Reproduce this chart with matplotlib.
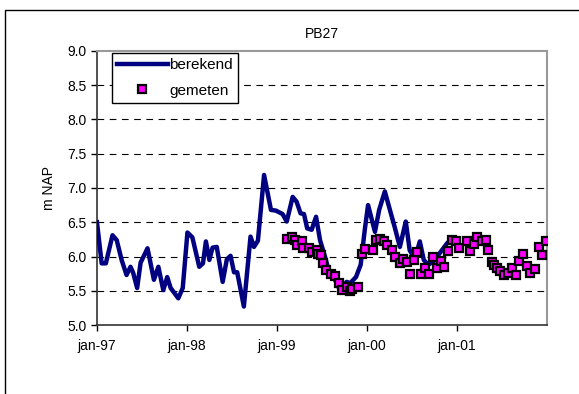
import matplotlib
matplotlib.use("Agg")
import matplotlib.pyplot as plt
from matplotlib.patches import Rectangle
import pandas as pd

plt.rcParams['font.family'] = ['Liberation Sans', 'DejaVu Sans']

# berekende stijghoogte (m NAP)
ber_dates = ['1997-01-01', '1997-01-20', '1997-02-06', '1997-03-05', '1997-03-22', '1997-04-11',
             '1997-05-01', '1997-05-17', '1997-05-28', '1997-06-13', '1997-06-27', '1997-07-25',
             '1997-08-20', '1997-09-07', '1997-09-27', '1997-10-13', '1997-10-27', '1997-11-27',
             '1997-12-15', '1998-01-03', '1998-01-23', '1998-02-20', '1998-03-07', '1998-03-19',
             '1998-04-02', '1998-04-15', '1998-05-02', '1998-05-26', '1998-06-12', '1998-06-27',
             '1998-07-11', '1998-07-24', '1998-08-20', '1998-09-16', '1998-09-30', '1998-10-16',
             '1998-11-10', '1998-12-08', '1998-12-28', '1999-01-24', '1999-02-10', '1999-03-06',
             '1999-03-22', '1999-04-07', '1999-04-21', '1999-05-04', '1999-05-22', '1999-06-09',
             '1999-06-25', '1999-07-15', '1999-08-02', '1999-08-25', '1999-09-14', '1999-10-11',
             '1999-10-25', '1999-11-18', '1999-12-07', '1999-12-24', '2000-01-06', '2000-02-03',
             '2000-02-20', '2000-03-14', '2000-04-06', '2000-04-23', '2000-05-14', '2000-06-07',
             '2000-06-23', '2000-07-14', '2000-08-03', '2000-08-19', '2000-09-05', '2000-09-26',
             '2000-10-23', '2000-11-21', '2000-12-15', '2001-01-03']
ber_values = [6.50, 5.90, 5.90, 6.31, 6.24, 5.95,
              5.73, 5.85, 5.76, 5.54, 5.91, 6.12,
              5.66, 5.85, 5.51, 5.70, 5.54, 5.39,
              5.54, 6.35, 6.28, 5.85, 5.90, 6.22,
              5.95, 6.13, 6.14, 5.63, 5.96, 6.01,
              5.77, 5.77, 5.27, 6.29, 6.14, 6.23,
              7.19, 6.68, 6.67, 6.62, 6.51, 6.87,
              6.80, 6.63, 6.62, 6.41, 6.39, 6.58,
              6.24, 6.00, 5.76, 5.66, 5.51, 5.63,
              5.61, 5.70, 5.88, 6.40, 6.75, 6.36,
              6.68, 6.95, 6.65, 6.43, 6.14, 6.51,
              6.09, 5.97, 6.22, 5.95, 5.88, 5.92,
              6.05, 6.19, 6.28, 6.20]

# gemeten stijghoogte (m NAP)
gem_dates = ['1999-02-12', '1999-03-02', '1999-03-15', '1999-03-22', '1999-04-11', '1999-04-17',
             '1999-05-12', '1999-05-22', '1999-06-11', '1999-06-18', '1999-06-28', '1999-07-08',
             '1999-07-21', '1999-08-08', '1999-08-25', '1999-09-11', '1999-09-21', '1999-10-11',
             '1999-10-25', '1999-11-02', '1999-11-25', '1999-12-12', '1999-12-26', '2000-01-24',
             '2000-02-07', '2000-02-23', '2000-03-11', '2000-03-24', '2000-04-12', '2000-04-24',
             '2000-05-13', '2000-05-25', '2000-06-10', '2000-06-24', '2000-07-12', '2000-07-24',
             '2000-08-08', '2000-08-24', '2000-09-10', '2000-09-24', '2000-10-12', '2000-10-27',
             '2000-11-10', '2000-11-26', '2000-12-10', '2000-12-28', '2001-01-10', '2001-02-09',
             '2001-02-22', '2001-03-11', '2001-03-24', '2001-04-11', '2001-04-27', '2001-05-08',
             '2001-05-22', '2001-05-31', '2001-06-14', '2001-06-25', '2001-07-09', '2001-07-25',
             '2001-08-12', '2001-08-28', '2001-09-11', '2001-09-26', '2001-10-13', '2001-10-26',
             '2001-11-12', '2001-11-29', '2001-12-13', '2001-12-27']
gem_values = [6.25, 6.28, 6.24, 6.17, 6.22, 6.12,
              6.12, 6.07, 6.09, 6.04, 6.02, 5.91,
              5.80, 5.75, 5.71, 5.62, 5.51, 5.56,
              5.49, 5.52, 5.55, 6.03, 6.11, 6.10,
              6.24, 6.25, 6.23, 6.17, 6.09, 6.00,
              5.91, 5.97, 5.92, 5.74, 5.95, 6.07,
              5.75, 5.83, 5.74, 6.00, 5.83, 5.94,
              5.84, 6.08, 6.24, 6.22, 6.12, 6.22,
              6.08, 6.18, 6.28, 6.22, 6.24, 6.10,
              5.92, 5.88, 5.83, 5.79, 5.73, 5.76,
              5.83, 5.73, 5.94, 6.04, 5.86, 5.76,
              5.82, 6.14, 6.02, 6.23]

tick_dates = ['1997-01-01', '1998-01-01', '1999-01-01', '2000-01-01', '2001-01-01']
tick_labels = ['jan-97', 'jan-98', 'jan-99', 'jan-00', 'jan-01']

fig = plt.figure(figsize=(5.79, 3.94), dpi=100)
ax = fig.add_axes([0.1675, 0.1751, 0.7772, 0.6955])

# frame around the whole chart
fig.patches.append(Rectangle((4.5 / 579, -0.05), 1.1, 1 - 10 / 394 + 0.05,
                             transform=fig.transFigure, fill=False,
                             edgecolor='black', linewidth=1.0, zorder=0))

ax.plot(pd.to_datetime(ber_dates), ber_values, color='#000080', linewidth=3.2,
        solid_joinstyle='round', label='berekend', zorder=3)
ax.plot(pd.to_datetime(gem_dates), gem_values, linestyle='none', marker='s',
        markersize=5.5, markerfacecolor='#FF00FF', markeredgecolor='black',
        markeredgewidth=1.6, label='gemeten', zorder=4)

ax.set_xlim(pd.Timestamp('1997-01-01'), pd.Timestamp('2002-01-01'))
ax.set_ylim(5.0, 9.0)
ax.set_yticks([5.0, 5.5, 6.0, 6.5, 7.0, 7.5, 8.0, 8.5, 9.0])
ax.yaxis.set_major_formatter(plt.FormatStrFormatter('%.1f'))
ax.set_xticks(pd.to_datetime(tick_dates))
ax.set_xticklabels(tick_labels)

for y in [5.5, 6.0, 6.5, 7.0, 7.5, 8.0, 8.5]:
    ax.axhline(y, color='black', linewidth=0.8, dashes=(6, 5), zorder=1)

ax.tick_params(axis='both', labelsize=10, direction='out', length=4, width=1, colors='black')
ax.tick_params(axis='x', pad=6)
for side in ['left', 'bottom']:
    ax.spines[side].set_color('#333333')
    ax.spines[side].set_linewidth(1.2)
for side in ['top', 'right']:
    ax.spines[side].set_color('#999999')
    ax.spines[side].set_linewidth(1.5)

ax.set_title('PB27', fontsize=10, pad=9)
ax.set_ylabel('m NAP', fontsize=10, labelpad=8)

leg = ax.legend(loc='upper left', bbox_to_anchor=(0.033, 0.993), borderaxespad=0,
                fontsize=11, frameon=True, fancybox=False, edgecolor='black', framealpha=1,
                handlelength=3.3, handletextpad=0.1, borderpad=0.35, labelspacing=0.75)
leg.get_frame().set_linewidth(1.0)

fig.savefig('out.png', dpi=100)
